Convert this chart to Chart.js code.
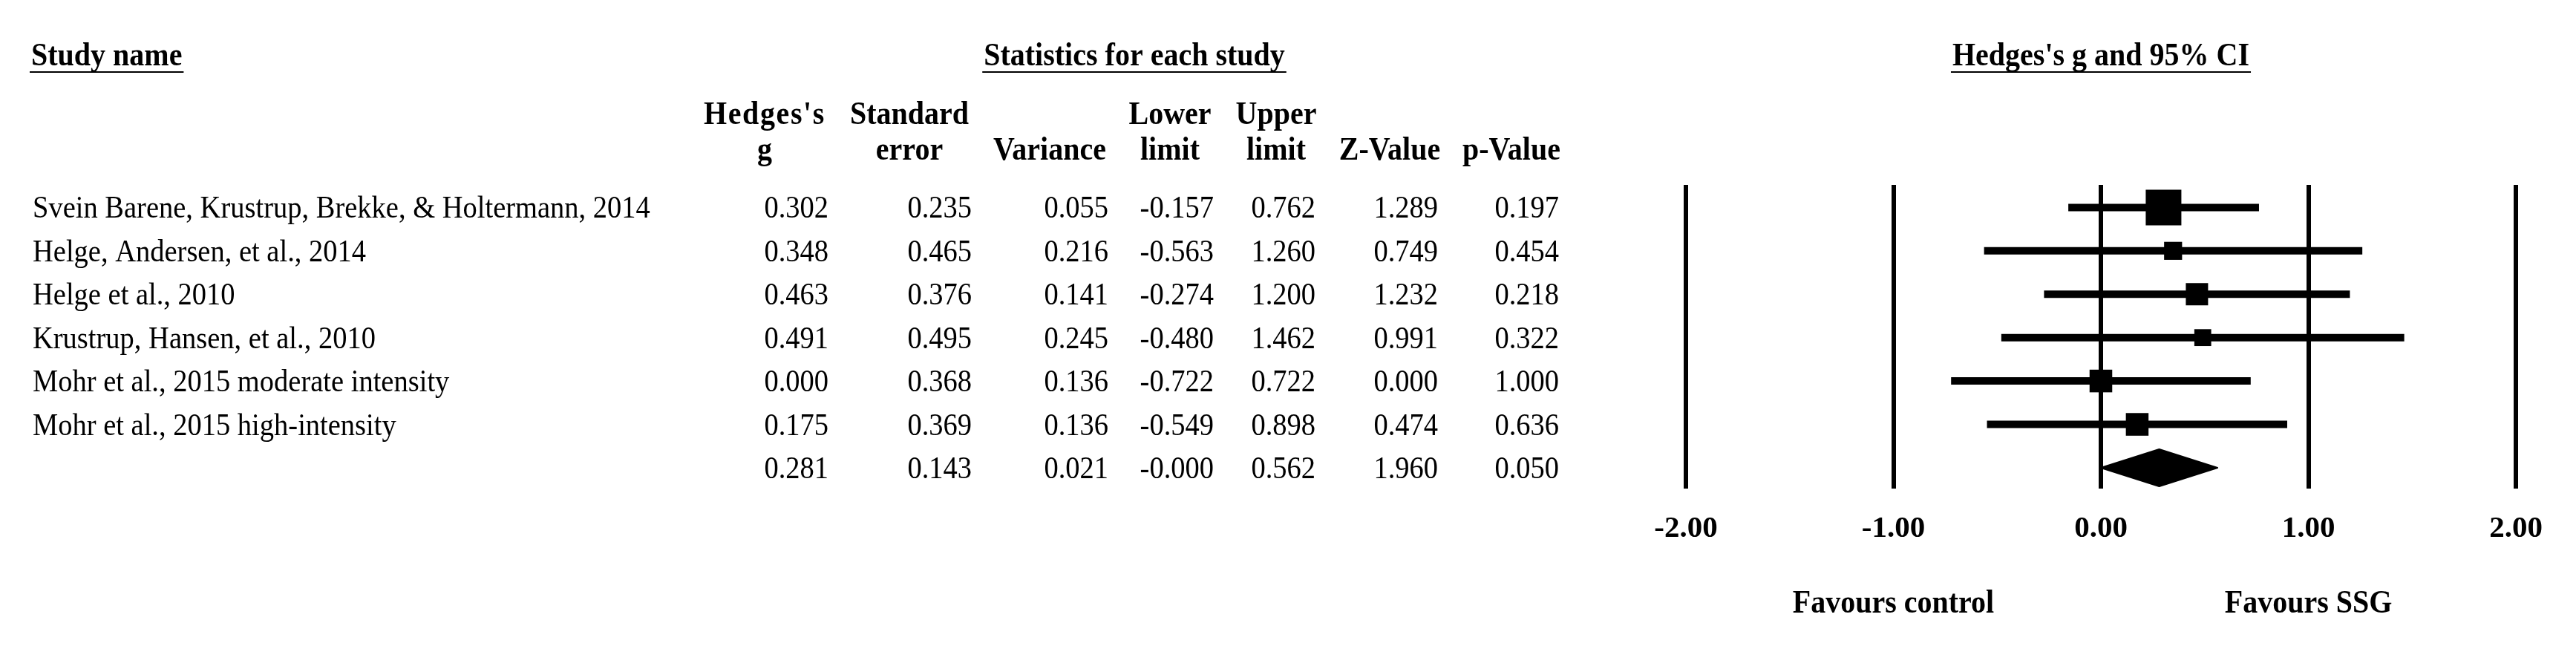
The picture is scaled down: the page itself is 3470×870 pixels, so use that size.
<!DOCTYPE html>
<html>
<head>
<meta charset="utf-8">
<script src="https://cdn.jsdelivr.net/npm/chart.js@4.4.1/dist/chart.umd.min.js"></script>
<style>
  html, body { margin: 0; padding: 0; background: #fff; }
  canvas { display: block; }
</style>
</head>
<body>
<canvas id="forest" width="3470" height="870"></canvas>
<script>
// study rows
const studyNames = [
  "Svein Barene, Krustrup, Brekke, & Holtermann, 2014",
  "Helge, Andersen, et al., 2014",
  "Helge et al., 2010",
  "Krustrup, Hansen, et al., 2010",
  "Mohr et al., 2015 moderate intensity",
  "Mohr et al., 2015 high-intensity",
];
const hedgesG = [0.302, 0.348, 0.463, 0.491, 0.000, 0.175];
const stdError = [0.235, 0.465, 0.376, 0.495, 0.368, 0.369];
const variance = [0.055, 0.216, 0.141, 0.245, 0.136, 0.136];
const lowerLimit = [-0.157, -0.563, -0.274, -0.480, -0.722, -0.549];
const upperLimit = [0.762, 1.260, 1.200, 1.462, 0.722, 0.898];
const zValue = [1.289, 0.749, 1.232, 0.991, 0.000, 0.474];
const pValue = [0.197, 0.454, 0.218, 0.322, 1.000, 0.636];

// pooled row: g, se, variance, lower, upper, z, p
const pooledRow = [0.281, 0.143, 0.021, -0.0003, 0.562, 1.960, 0.050];

const headLine1 = ["Hedges's", "Standard", "", "Lower", "Upper", "", ""];
const headLine2 = ["g", "error", "Variance", "limit", "limit", "Z-Value", "p-Value"];
const xTicks = [-2, -1, 0, 1, 2];

// layout (px)
const FONT = '"Liberation Serif", "Times New Roman", serif';
const STRETCH = 1.12;       // text in the figure is a bit taller than normal
const colRight = [1116, 1309, 1493, 1635, 1772, 1937, 2100];
const headCenter = [1030, 1225, 1414, 1576, 1719, 1872, 2036];
const SQUARE_MAX = 48;

function txt(ctx, s, x, y, align, bold, spacing) {
  ctx.save();
  ctx.font = bold ? "bold 40px " + FONT : "38.5px " + FONT;
  if (spacing) ctx.letterSpacing = spacing;
  ctx.textAlign = align;
  ctx.textBaseline = "alphabetic";
  ctx.fillStyle = "#000";
  ctx.translate(x, y);
  ctx.scale(1, STRETCH);
  ctx.fillText(s, 0, 0);
  ctx.restore();
}

function underlinedTitle(ctx, s, x, y, align) {
  txt(ctx, s, x, y, align, true);
  ctx.save();
  ctx.font = "bold 40px " + FONT;
  const w = ctx.measureText(s).width;
  const x0 = align === "center" ? x - w / 2 : x;
  ctx.fillStyle = "#000";
  ctx.fillRect(x0 - 2, y + 8, w + 4, 2);
  ctx.restore();
}

const tablePlugin = {
  id: "table",
  afterDatasetsDraw(chart) {
    const ctx = chart.ctx;
    const xs = chart.scales.x, ys = chart.scales.y;
    // pooled diamond
    const yc = ys.getPixelForValue(studyNames.length);
    const xl = xs.getPixelForValue(pooledRow[3]);
    const xg = xs.getPixelForValue(pooledRow[0]);
    const xr = xs.getPixelForValue(pooledRow[4]);
    ctx.save();
    ctx.beginPath();
    ctx.moveTo(xl, yc);
    ctx.lineTo(xg, yc - 25);
    ctx.lineTo(xr, yc);
    ctx.lineTo(xg, yc + 25);
    ctx.closePath();
    ctx.fillStyle = "#000";
    ctx.strokeStyle = "#000";
    ctx.lineJoin = "round";
    ctx.lineWidth = 2;
    ctx.fill();
    ctx.stroke();
    ctx.restore();
  },
  afterDraw(chart) {
    const ctx = chart.ctx;
    const xs = chart.scales.x, ys = chart.scales.y;

    underlinedTitle(ctx, "Study name", 42, 88, "left");
    underlinedTitle(ctx, "Statistics for each study", 1528, 88, "center");
    underlinedTitle(ctx, "Hedges's g and 95% CI", xs.getPixelForValue(0), 88, "center");

    headLine1.forEach((h, c) => {
      if (h) txt(ctx, h, headCenter[c], 167, "center", true, c === 0 ? "1.6px" : null);
    });
    headLine2.forEach((h, c) => txt(ctx, h, headCenter[c], 215, "center", true));

    studyNames.forEach((name, i) => {
      const y = ys.getPixelForValue(i) + 14;
      const vals = [hedgesG[i], stdError[i], variance[i], lowerLimit[i], upperLimit[i], zValue[i], pValue[i]];
      txt(ctx, name, 44, y, "left", false);
      vals.forEach((v, c) => txt(ctx, v.toFixed(3), colRight[c], y, "right", false));
    });
    const yp = ys.getPixelForValue(studyNames.length) + 14;
    pooledRow.forEach((v, c) => txt(ctx, v.toFixed(3), colRight[c], yp, "right", false));

    txt(ctx, "Favours control", xs.getPixelForValue(-1), 825, "center", true);
    txt(ctx, "Favours SSG", xs.getPixelForValue(1), 825, "center", true);
  }
};

const ciSets = studyNames.map((n, i) => ({
  label: n,
  type: "scatter",
  showLine: true,
  data: [{ x: lowerLimit[i], y: i }, { x: upperLimit[i], y: i }],
  borderColor: "#000",
  borderWidth: 10,
  borderCapStyle: "butt",
  pointRadius: 0,
  pointHoverRadius: 0,
  order: 2,
}));

new Chart(document.getElementById("forest"), {
  type: "scatter",
  data: {
    datasets: [
      {
        label: "Hedges's g",
        data: hedgesG.map((g, i) => ({ x: g, y: i })),
        pointStyle: "rect",
        pointRadius: (c) => SQUARE_MAX * Math.sqrt(Math.min(...variance) / variance[c.dataIndex]) / Math.SQRT2,
        backgroundColor: "#000",
        borderWidth: 0,
        order: 1,
      },
      ...ciSets,
    ],
  },
  options: {
    responsive: false,
    animation: false,
    layout: { padding: { left: 2271, right: 81, top: 249, bottom: 132 } },
    plugins: { legend: { display: false }, tooltip: { enabled: false } },
    scales: {
      x: {
        type: "linear",
        min: -2,
        max: 2,
        afterBuildTicks: (s) => { s.ticks = xTicks.map((v) => ({ value: v })); },
        afterFit: (s) => { s.height = 80; },
        grid: { color: "#000", lineWidth: 6, drawTicks: false },
        border: { display: false },
        ticks: {
          padding: 30,
          color: "#000",
          font: { family: FONT, size: 41, weight: "bold" },
          callback: (v) => Number(v).toFixed(2),
        },
      },
      y: {
        type: "linear",
        display: false,
        reverse: true,
        min: -0.52,
        max: 6.48,
      },
    },
  },
  plugins: [tablePlugin],
});
</script>
</body>
</html>
